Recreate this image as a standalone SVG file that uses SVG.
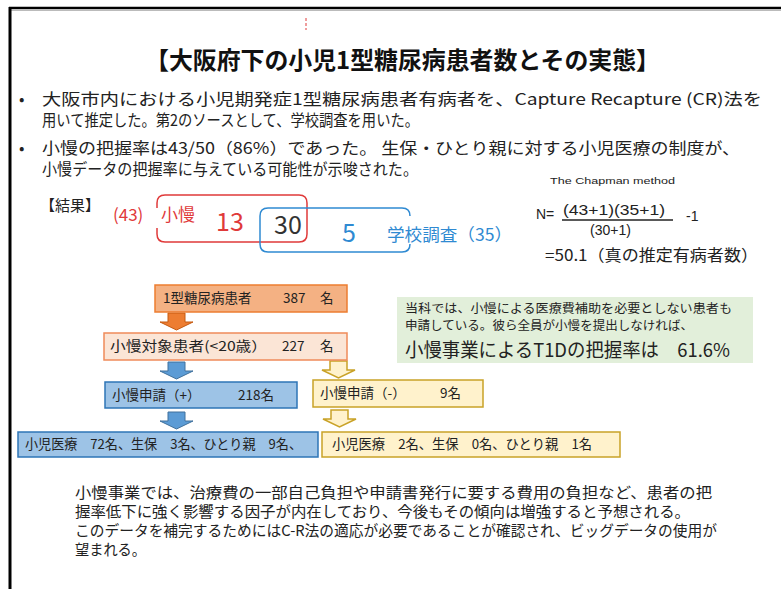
<svg xmlns="http://www.w3.org/2000/svg" width="781" height="589" viewBox="0 0 781 589">
<style>
text{font-family:"Noto Sans CJK JP","Noto Sans",sans-serif;fill:#222}
.title{font-size:24px;font-weight:bold;fill:#111}
.body{font-size:16px}
.para{font-size:15px}
.box{font-size:13.5px;fill:#222}
.red{fill:#e03a3a}
.blue{fill:#2f8ad2}
.fm{font-family:"Liberation Sans","Noto Sans",sans-serif;fill:#222}
</style>
<defs>
<path id="arr" d="M8,0 H25 V9 H33 L16.5,17 L0,9 H8 Z"/>
</defs>
<rect width="781" height="589" fill="#fff"/>
<g id="frame">
<line x1="9" y1="8" x2="781" y2="8" stroke="#000" stroke-width="2.5"/>
<line x1="11" y1="10.5" x2="781" y2="10.5" stroke="#bbb" stroke-width="1"/>
<line x1="10" y1="7" x2="10" y2="589" stroke="#000" stroke-width="3"/>
<line x1="306" y1="18" x2="306" y2="30" stroke="#e03a3a" stroke-width="1" stroke-dasharray="3,2"/>
</g>
<g id="title">
<text class="title" x="145" y="69" textLength="515" lengthAdjust="spacingAndGlyphs">【大阪府下の小児1型糖尿病患者数とその実態】</text>
</g>
<g id="bullets">
<text class="body" x="19" y="105">•</text>
<text class="body" x="42" y="105" textLength="720" lengthAdjust="spacingAndGlyphs">大阪市内における小児期発症1型糖尿病患者有病者を、Capture Recapture (CR)法を</text>
<text class="body" x="42" y="126" textLength="377" lengthAdjust="spacingAndGlyphs">用いて推定した。第2のソースとして、学校調査を用いた。</text>
<text class="body" x="19" y="154">•</text>
<text class="body" x="42" y="154" textLength="698" lengthAdjust="spacingAndGlyphs">小慢の把握率は43/50（86%）であった。 生保・ひとり親に対する小児医療の制度が、</text>
<text class="body" x="42" y="175" textLength="376" lengthAdjust="spacingAndGlyphs">小慢データの把握率に与えている可能性が示唆された。</text>
</g>
<g id="venn">
<text x="40" y="211" style="font-size:15px">【結果】</text>
<path d="M157,208 V203 Q157,195 165,195 H299 Q307,195 307,203 V234 Q307,242 299,242 H165 Q157,242 157,234 V228" fill="none" stroke="#e03a3a" stroke-width="1.5"/>
<path d="M410,216 Q410,208 402,208 H268 Q260,208 260,216 V244 Q260,252 268,252 H402 Q410,252 410,244" fill="none" stroke="#2f8ad2" stroke-width="1.5"/>
<text class="red" x="113" y="221" style="font-size:17px">(43)</text>
<text class="red" x="161" y="221" style="font-size:17px">小慢</text>
<text class="red" x="216" y="231" style="font-size:25px">13</text>
<text x="274" y="234" style="font-size:25px;fill:#333">30</text>
<text class="blue" x="342" y="242" style="font-size:25px">5</text>
<text class="blue" x="387" y="241" style="font-size:17px" textLength="125" lengthAdjust="spacingAndGlyphs">学校調査（35）</text>
</g>
<g id="formula">
<text class="fm" x="550" y="184" style="font-size:9px" textLength="125" lengthAdjust="spacingAndGlyphs">The Chapman method</text>
<text class="fm" x="536" y="219" style="font-size:14px">N=</text>
<text class="fm" x="563" y="215" style="font-size:14px" textLength="102" lengthAdjust="spacingAndGlyphs">(43+1)(35+1)</text>
<line x1="562" y1="220" x2="673" y2="220" stroke="#222" stroke-width="1.3"/>
<text class="fm" x="590" y="235" style="font-size:14px">(30+1)</text>
<text class="fm" x="686" y="221" style="font-size:14px">-1</text>
<text x="545" y="261" style="font-size:16px" textLength="213" lengthAdjust="spacingAndGlyphs">=50.1（真の推定有病者数）</text>
</g>
<g id="connectors">
<use href="#arr" x="160" y="313" fill="#ed7d31" stroke="#c55a11" stroke-width="1"/>
<use href="#arr" x="160" y="362" fill="#5b9bd5" stroke="#41719c" stroke-width="1"/>
<use href="#arr" x="160" y="412" fill="#5b9bd5" stroke="#41719c" stroke-width="1"/>
<use href="#arr" x="322" y="361" fill="#fff2cc" stroke="#c9a227" stroke-width="1.5"/>
<use href="#arr" x="323" y="410" fill="#fff2cc" stroke="#c9a227" stroke-width="1.5"/>
</g>
<g id="n-total">
<rect x="155" y="285" width="192" height="27" fill="#f4b183" stroke="#ed7d31" stroke-width="1.5"/>
<text class="box" x="163" y="303">1型糖尿病患者<tspan x="283">387</tspan><tspan x="320">名</tspan></text>
</g>
<g id="n-target">
<rect x="104" y="333" width="243" height="27" fill="#fbe5d6" stroke="#ef8a5a" stroke-width="1.5"/>
<text class="box" x="110" y="351"><tspan textLength="157" lengthAdjust="spacingAndGlyphs">小慢対象患者(&lt;20歳）</tspan><tspan x="282">227</tspan><tspan x="320">名</tspan></text>
</g>
<g id="n-apply-yes">
<rect x="105" y="382" width="192" height="26" fill="#9dc3e6" stroke="#2e75b6" stroke-width="1.5"/>
<text class="box" x="112" y="400">小慢申請（+）<tspan x="238">218名</tspan></text>
</g>
<g id="n-apply-no">
<rect x="313" y="380" width="170" height="27" fill="#fff2cc" stroke="#c9a227" stroke-width="1.5"/>
<text class="box" x="320" y="398">小慢申請（-）<tspan x="440">9名</tspan></text>
</g>
<g id="n-yes-detail">
<rect x="18" y="432" width="300" height="25" fill="#9dc3e6" stroke="#2e75b6" stroke-width="1.5"/>
<text class="box" x="25" y="449" textLength="277" lengthAdjust="spacingAndGlyphs">小児医療　72名、生保　3名、ひとり親　9名、</text>
</g>
<g id="n-no-detail">
<rect x="322" y="432" width="298" height="25" fill="#fff2cc" stroke="#c9a227" stroke-width="1.5"/>
<text class="box" x="332" y="449" textLength="260" lengthAdjust="spacingAndGlyphs">小児医療　2名、生保　0名、ひとり親　1名</text>
</g>
<g id="n-note">
<rect x="397" y="297" width="356" height="66" fill="#e2efda"/>
<text x="405" y="313" style="font-size:12px" textLength="327" lengthAdjust="spacingAndGlyphs">当科では、小慢による医療費補助を必要としない患者も</text>
<text x="405" y="330" style="font-size:12px" textLength="288" lengthAdjust="spacingAndGlyphs">申請している。彼ら全員が小慢を提出しなければ、</text>
<text x="405" y="357" style="font-size:19px" textLength="325" lengthAdjust="spacingAndGlyphs">小慢事業によるT1Dの把握率は　61.6%</text>
</g>
<g id="conclusion">
<text class="para" x="75" y="498" textLength="637" lengthAdjust="spacingAndGlyphs">小慢事業では、治療費の一部自己負担や申請書発行に要する費用の負担など、患者の把</text>
<text class="para" x="75" y="517" textLength="615" lengthAdjust="spacingAndGlyphs">握率低下に強く影響する因子が内在しており、今後もその傾向は増強すると予想される。</text>
<text class="para" x="75" y="536" textLength="642" lengthAdjust="spacingAndGlyphs">このデータを補完するためにはC-R法の適応が必要であることが確認され、ビッグデータの使用が</text>
<text class="para" x="75" y="555" textLength="71" lengthAdjust="spacingAndGlyphs">望まれる。</text>
</g>
</svg>
